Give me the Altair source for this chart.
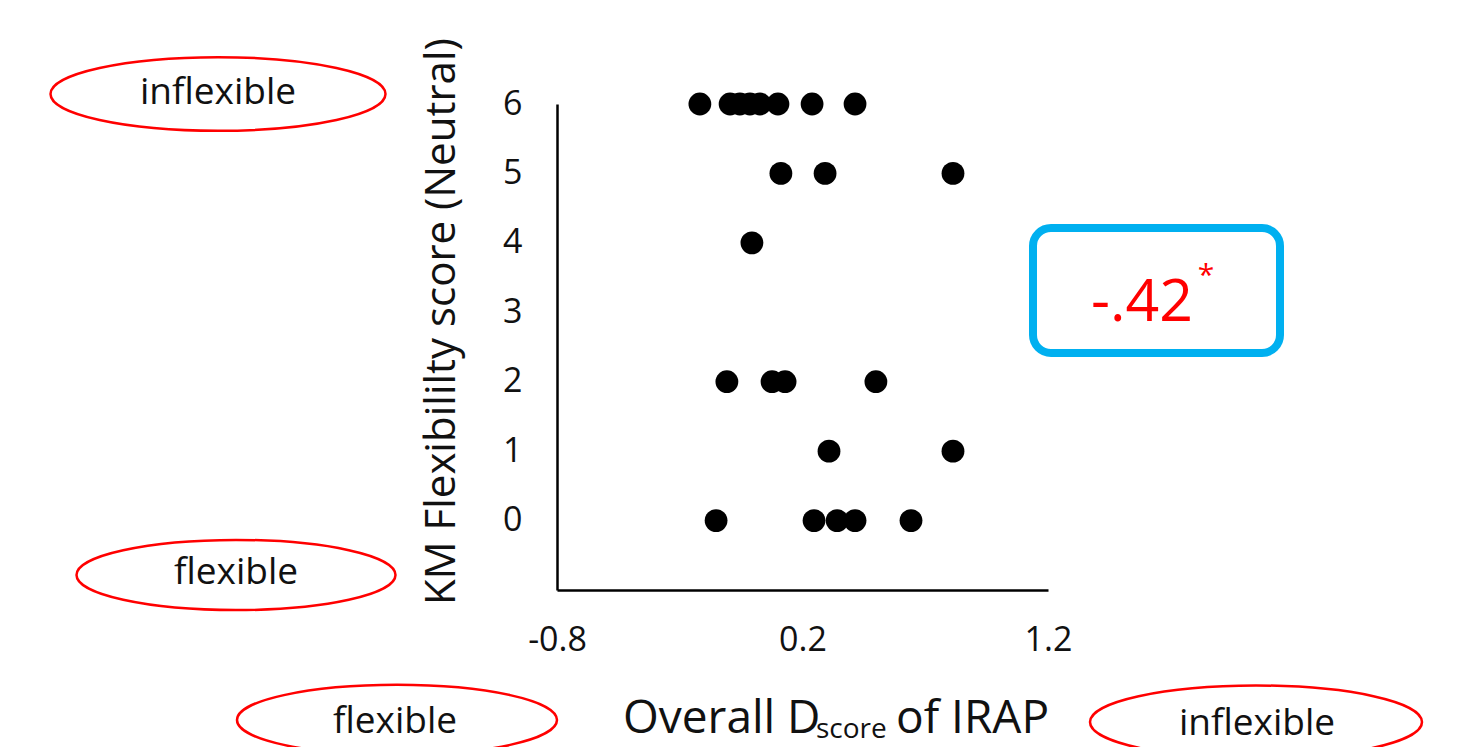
import altair as alt
import pandas as pd

# Data
score_6 = [-0.218, -0.095, -0.055, -0.014, 0.027, 0.100, 0.239, 0.414]
score_5 = [0.112, 0.292, 0.813]
score_4 = [-0.006]
score_2 = [-0.108, 0.076, 0.129, 0.499]
score_1 = [0.308, 0.813]
score_0 = [-0.152, 0.247, 0.341, 0.414, 0.642]
x_ticks = [-0.8, 0.2, 1.2]
y_ticks = [0, 1, 2, 3, 4, 5, 6]

rows = []
for yv, xs in [(6, score_6), (5, score_5), (4, score_4), (2, score_2), (1, score_1), (0, score_0)]:
    for xv in xs:
        rows.append({"d": xv, "km": yv})
df = pd.DataFrame(rows)

FONT = "Open Sans"
W, H = 491, 486
ELL = "M -1 0 A 1 0.22 0 1 1 1 0 A 1 0.22 0 1 1 -1 0 Z"

points = alt.Chart(df).mark_circle(size=520, color="black", opacity=1).encode(
    x=alt.X("d:Q", scale=alt.Scale(domain=[-0.8, 1.2], nice=False, zero=False),
            axis=alt.Axis(values=x_ticks, title="", grid=False, ticks=False,
                          domainColor="black", domainWidth=2.5, labelFlush=False,
                          labelFont=FONT, labelFontSize=34, labelColor="#111111",
                          labelPadding=33, labelExpr="replace(format(datum.value, '.1f'), '−', '-')")),
    y=alt.Y("km:Q", scale=alt.Scale(domain=[-1, 6], nice=False, zero=False),
            axis=alt.Axis(values=y_ticks, grid=False, ticks=False,
                          domainColor="black", domainWidth=2.5,
                          labelFont=FONT, labelFontSize=34, labelColor="#111111",
                          labelPadding=35,
                          title="KM Flexibililty score (Neutral)",
                          titleFont=FONT, titleFontSize=42, titleFontWeight="normal",
                          titleColor="#111111", titleAngle=270, titleX=-116, titleY=217,
                          titleAlign="center", titleBaseline="middle")),
)

def ellipse(cx, cy, w):
    return alt.Chart().mark_point(shape=ELL, size=w * w, stroke="#ff0000",
                                  strokeWidth=2.5, filled=False, opacity=1).encode(
        x=alt.value(cx), y=alt.value(cy))

def label(txt, cx, cy, size=37, color="#111111", align="center", baseline="middle"):
    return alt.Chart().mark_text(text=txt, font=FONT, fontSize=size, color=color,
                                 align=align, baseline=baseline).encode(
        x=alt.value(cx), y=alt.value(cy))

box = alt.Chart().mark_rect(stroke="#00b0f0", strokeWidth=8, fill="white",
                            cornerRadius=18).encode(
    x=alt.value(476), x2=alt.value(723), y=alt.value(124), y2=alt.value(249))

layers = [
    box,
    points,
    ellipse(-339, -10, 335), label("inflexible", -339, -11),
    ellipse(-321, 471, 319), label("flexible", -321, 469),
    ellipse(-160, 616, 320), label("flexible", -162, 618),
    ellipse(699, 618, 332), label("inflexible", 700, 620),
    label("-.42", 585, 199, size=59, color="#ff0000"),
    label("*", 649, 181, size=30, color="#ff0000", baseline="alphabetic"),
    label("Overall D", 66, 629, size=46, align="left", baseline="alphabetic"),
    label("score", 259, 634, size=28, align="left", baseline="alphabetic"),
    label("of IRAP", 339, 629, size=46, align="left", baseline="alphabetic"),
]

chart = alt.layer(*layers).properties(
    width=W, height=H,
    autosize=alt.AutoSizeParams(type="none"),
    padding={"left": 557, "top": 104, "right": 1460 - 557 - W, "bottom": 747 - 104 - H},
    background="white",
).configure_view(stroke=None)

chart.save("out.html", embed_options={"renderer": "svg", "actions": False})
